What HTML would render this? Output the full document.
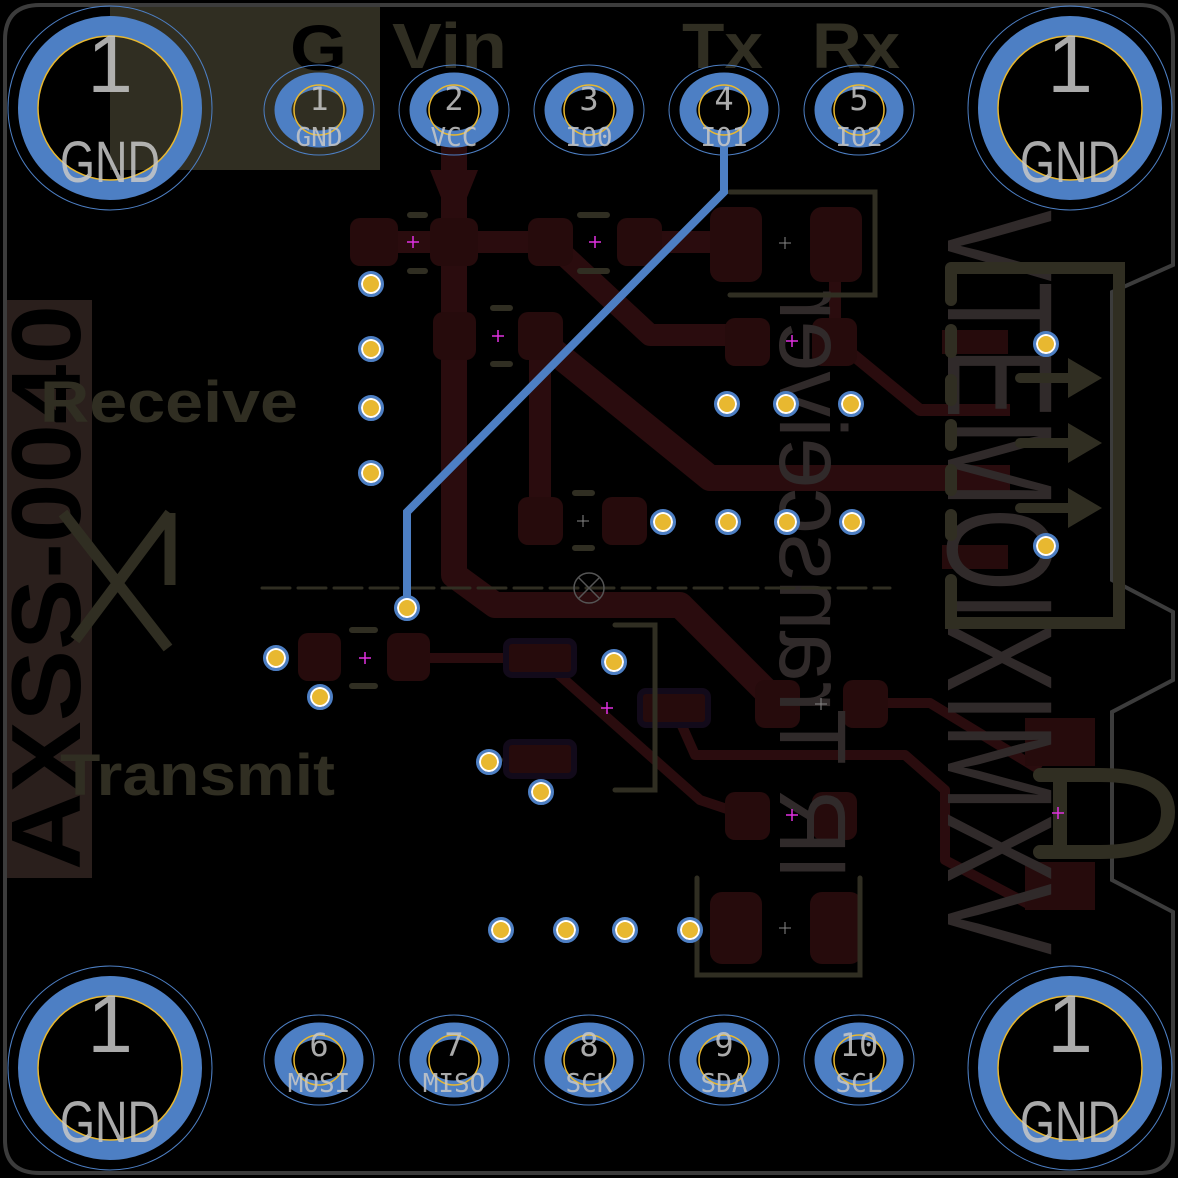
<!DOCTYPE html>
<html><head><meta charset="utf-8"><style>
html,body{margin:0;padding:0;background:#000;}
svg{display:block;}
text{font-family:"Liberation Sans",sans-serif;}
.mono{font-family:"DejaVu Sans Mono","Liberation Mono",monospace;}
</style></head><body>
<svg width="1178" height="1178" viewBox="0 0 1178 1178" xmlns="http://www.w3.org/2000/svg">
<rect width="1178" height="1178" fill="#000"/>
<!-- silkscreen fills -->
<rect x="110" y="5" width="270" height="165" fill="#302e22"/>
<rect x="7" y="300" width="85" height="578" fill="#2a1f1c"/>
<text transform="translate(80,870) rotate(-90)" font-size="98" font-weight="bold" fill="#000" textLength="565" lengthAdjust="spacingAndGlyphs">AXSS-0040</text>
<text x="290" y="70" font-size="64" font-weight="bold" fill="#000" textLength="57" lengthAdjust="spacingAndGlyphs">G</text>
<text x="392" y="68" font-size="64" font-weight="bold" fill="#302e22" textLength="115" lengthAdjust="spacingAndGlyphs">Vin</text>
<text x="682" y="68" font-size="64" font-weight="bold" fill="#302e22" textLength="81" lengthAdjust="spacingAndGlyphs">Tx</text>
<text x="812" y="68" font-size="64" font-weight="bold" fill="#302e22" textLength="88" lengthAdjust="spacingAndGlyphs">Rx</text>
<text x="40" y="422" font-size="58" font-weight="bold" fill="#302e22" textLength="258" lengthAdjust="spacingAndGlyphs">Receive</text>
<text x="60" y="795" font-size="58" font-weight="bold" fill="#302e22" textLength="275" lengthAdjust="spacingAndGlyphs">Transmit</text>
<path d="M63 513 L168 648 M170 513 L75 640 M170 513 V585" stroke="#302e22" stroke-width="11" fill="none"/>

<!-- board outline -->
<path d="M40 5 H1140 Q1173 5 1173 40 V265 L1112 292 V580 L1173 612 V680 L1112 712 V880 L1173 912 V1140 Q1173 1173 1140 1173 H40 Q5 1173 5 1140 V40 Q5 5 40 5 Z" fill="none" stroke="#3c3c3c" stroke-width="4"/>

<!-- copper traces -->
<g stroke="#2a0c0e" fill="none" stroke-linejoin="round">
<path d="M454 140 V575 L495 605 H680 L775 700" stroke-width="26"/>
<path d="M375 242 H550 L650 335 H745" stroke-width="22"/>
<path d="M540 330 V520" stroke-width="22"/>
<path d="M540 340 L710 478 H1010" stroke-width="26"/>
<path d="M640 242 H745" stroke-width="22"/>
<path d="M835 240 V340 L920 410 H1010" stroke-width="12"/>
<path d="M410 658 H540 L700 800 L745 815" stroke-width="10"/>
<path d="M675 710 L695 755 H905 L945 790 V860 L1030 905" stroke-width="10"/>
<path d="M865 703 H930 L1040 770" stroke-width="10"/>
</g>
<path d="M430 170 L478 170 L466 200 L442 200 Z" fill="#2a0c0e"/>
<!-- pads -->
<g fill="#260b0c">
<rect x="350" y="218" width="48" height="48" rx="10"/>
<rect x="430" y="218" width="48" height="48" rx="10"/>
<rect x="528" y="218" width="45" height="48" rx="10"/>
<rect x="617" y="218" width="45" height="48" rx="10"/>
<rect x="710" y="207" width="52" height="75" rx="12"/>
<rect x="810" y="207" width="52" height="75" rx="12"/>
<rect x="433" y="312" width="43" height="48" rx="10"/>
<rect x="518" y="312" width="45" height="48" rx="10"/>
<rect x="725" y="318" width="45" height="48" rx="10"/>
<rect x="812" y="318" width="45" height="48" rx="10"/>
<rect x="518" y="497" width="45" height="48" rx="10"/>
<rect x="602" y="497" width="45" height="48" rx="10"/>
<rect x="298" y="633" width="43" height="48" rx="10"/>
<rect x="387" y="633" width="43" height="48" rx="10"/>
<rect x="755" y="680" width="45" height="48" rx="10"/>
<rect x="843" y="680" width="45" height="48" rx="10"/>
<rect x="725" y="792" width="45" height="48" rx="10"/>
<rect x="812" y="792" width="45" height="48" rx="10"/>
<rect x="710" y="892" width="52" height="72" rx="12"/>
<rect x="810" y="892" width="52" height="72" rx="12"/>
<rect x="1025" y="718" width="70" height="48"/>
<rect x="1025" y="862" width="70" height="48"/>
<rect x="942" y="330" width="66" height="24"/>
<rect x="942" y="545" width="66" height="24"/>
</g>
<g fill="#260b0c" stroke="#120a1a" stroke-width="6">
<rect x="506" y="641" width="68" height="34" rx="6"/>
<rect x="640" y="691" width="68" height="34" rx="6"/>
<rect x="506" y="742" width="68" height="34" rx="6"/>
</g>

<!-- gray rotated texts -->
<text transform="translate(948,210) rotate(90)" font-size="150" fill="#302a2a" textLength="745" lengthAdjust="spacingAndGlyphs">VTEMOIXIMXV</text>
<text transform="translate(780,880) rotate(-90) scale(1,-1)" font-size="95" fill="#302a2a" textLength="590" lengthAdjust="spacingAndGlyphs">IR Transceiver</text>

<!-- silk outlines -->
<g stroke="#302e22" fill="none" stroke-linecap="round">
<path d="M730 192 H875 V295 H730" stroke-width="5"/>
<path d="M697 878 V975 H860 V878" stroke-width="5"/>
<path d="M615 625 H655 V790 H615" stroke-width="5"/>
<path d="M951 268 H1119 V623 H951 V580 M951 268 V300" stroke-width="12"/>
<path d="M951 330 V352 M951 380 V400 M951 425 V445 M951 470 V490 M951 515 V535" stroke-width="12"/>
<path d="M1020 378 H1072 M1020 443 H1072 M1020 508 H1072" stroke-width="10"/>
<path d="M1040 775 H1100 Q1168 775 1168 812 Q1168 852 1100 852 H1040" stroke-width="14"/>
<path d="M1060 775 V852" stroke-width="14"/>
<g stroke-width="6">
<path d="M410 215 H425 M410 271 H425 M493 308 H510 M493 364 H510 M580 215 H607 M580 271 H607 M575 493 H592 M575 548 H592 M352 630 H375 M352 686 H375 M486 760 H500"/>
</g>
<path d="M262 588 H890" stroke-width="3" stroke-dasharray="28 8"/>
</g>
<g fill="#302e22">
<path d="M1068 358 L1102 378 L1068 398 Z"/><path d="M1068 423 L1102 443 L1068 463 Z"/><path d="M1068 488 L1102 508 L1068 528 Z"/>
</g>
<circle cx="589" cy="588" r="15" fill="none" stroke="#555" stroke-width="1.5"/>
<path d="M578 577 L600 599 M600 577 L578 599" stroke="#555" stroke-width="1.5"/>

<!-- blue top trace -->
<path d="M724 140 V192 L407 512 V608" stroke="#4d7fc4" stroke-width="8" fill="none"/>

<!-- magenta crosses -->
<g stroke="#e030e0" stroke-width="1.5">
<path d="M413 236 v12 M407 242 h12"/><path d="M595 236 v12 M589 242 h12"/><path d="M498 330 v12 M492 336 h12"/>
<path d="M792 335 v12 M786 341 h12"/><path d="M365 652 v12 M359 658 h12"/><path d="M607 702 v12 M601 708 h12"/>
<path d="M792 809 v12 M786 815 h12"/><path d="M1058 807 v12 M1052 813 h12"/>
</g>
<g stroke="#888" stroke-width="1">
<path d="M785 237 v12 M779 243 h12"/><path d="M583 515 v12 M577 521 h12"/><path d="M821 698 v12 M815 704 h12"/><path d="M785 922 v12 M779 928 h12"/>
</g>

<!-- vias -->
<g fill="#e8b830" stroke="#fff" stroke-width="2">
<circle cx="371" cy="284" r="9"/><circle cx="371" cy="349" r="9"/><circle cx="371" cy="408" r="9"/><circle cx="371" cy="473" r="9"/>
<circle cx="727" cy="404" r="9"/><circle cx="786" cy="404" r="9"/><circle cx="851" cy="404" r="9"/>
<circle cx="663" cy="522" r="9"/><circle cx="728" cy="522" r="9"/><circle cx="787" cy="522" r="9"/><circle cx="852" cy="522" r="9"/>
<circle cx="1046" cy="344" r="9"/><circle cx="1046" cy="546" r="9"/><circle cx="407" cy="608" r="9"/>
<circle cx="276" cy="658" r="9"/><circle cx="320" cy="697" r="9"/><circle cx="614" cy="662" r="9"/>
<circle cx="489" cy="762" r="9"/><circle cx="541" cy="792" r="9"/>
<circle cx="501" cy="930" r="9"/><circle cx="566" cy="930" r="9"/><circle cx="625" cy="930" r="9"/><circle cx="690" cy="930" r="9"/>
</g>
<g fill="none" stroke="#4d7fc4" stroke-width="3">
<circle cx="371" cy="284" r="11.5"/><circle cx="371" cy="349" r="11.5"/><circle cx="371" cy="408" r="11.5"/><circle cx="371" cy="473" r="11.5"/>
<circle cx="727" cy="404" r="11.5"/><circle cx="786" cy="404" r="11.5"/><circle cx="851" cy="404" r="11.5"/>
<circle cx="663" cy="522" r="11.5"/><circle cx="728" cy="522" r="11.5"/><circle cx="787" cy="522" r="11.5"/><circle cx="852" cy="522" r="11.5"/>
<circle cx="1046" cy="344" r="11.5"/><circle cx="1046" cy="546" r="11.5"/><circle cx="407" cy="608" r="11.5"/>
<circle cx="276" cy="658" r="11.5"/><circle cx="320" cy="697" r="11.5"/><circle cx="614" cy="662" r="11.5"/>
<circle cx="489" cy="762" r="11.5"/><circle cx="541" cy="792" r="11.5"/>
<circle cx="501" cy="930" r="11.5"/><circle cx="566" cy="930" r="11.5"/><circle cx="625" cy="930" r="11.5"/><circle cx="690" cy="930" r="11.5"/>
</g>

<!-- header pins -->
<g fill="none">
<g stroke="#4d7fc4" stroke-width="1">
<ellipse cx="319" cy="110" rx="55" ry="45"/><ellipse cx="454" cy="110" rx="55" ry="45"/><ellipse cx="589" cy="110" rx="55" ry="45"/><ellipse cx="724" cy="110" rx="55" ry="45"/><ellipse cx="859" cy="110" rx="55" ry="45"/>
<ellipse cx="319" cy="1060" rx="55" ry="45"/><ellipse cx="454" cy="1060" rx="55" ry="45"/><ellipse cx="589" cy="1060" rx="55" ry="45"/><ellipse cx="724" cy="1060" rx="55" ry="45"/><ellipse cx="859" cy="1060" rx="55" ry="45"/>
</g>
<g stroke="#4d7fc4" stroke-width="17">
<ellipse cx="319" cy="110" rx="36" ry="29"/><ellipse cx="454" cy="110" rx="36" ry="29"/><ellipse cx="589" cy="110" rx="36" ry="29"/><ellipse cx="724" cy="110" rx="36" ry="29"/><ellipse cx="859" cy="110" rx="36" ry="29"/>
<ellipse cx="319" cy="1060" rx="36" ry="29"/><ellipse cx="454" cy="1060" rx="36" ry="29"/><ellipse cx="589" cy="1060" rx="36" ry="29"/><ellipse cx="724" cy="1060" rx="36" ry="29"/><ellipse cx="859" cy="1060" rx="36" ry="29"/>
</g>
<g stroke="#e8b830" stroke-width="1.5">
<circle cx="319" cy="110" r="25"/><circle cx="454" cy="110" r="25"/><circle cx="589" cy="110" r="25"/><circle cx="724" cy="110" r="25"/><circle cx="859" cy="110" r="25"/>
<circle cx="319" cy="1060" r="25"/><circle cx="454" cy="1060" r="25"/><circle cx="589" cy="1060" r="25"/><circle cx="724" cy="1060" r="25"/><circle cx="859" cy="1060" r="25"/>
</g>
</g>
<g fill="#c8c8c8" fill-opacity="0.85" text-anchor="middle" font-size="32">
<text x="319" y="110" class="mono">1</text><text x="454" y="110" class="mono">2</text><text x="589" y="110" class="mono">3</text><text x="724" y="110" class="mono">4</text><text x="859" y="110" class="mono">5</text>
<text x="319" y="1056" class="mono">6</text><text x="454" y="1056" class="mono">7</text><text x="589" y="1056" class="mono">8</text><text x="724" y="1056" class="mono">9</text><text x="859" y="1056" class="mono">10</text>
</g>
<g fill="#c8c8c8" fill-opacity="0.85" text-anchor="middle" font-size="26">
<text x="319" y="146" class="mono">GND</text><text x="454" y="146" class="mono">VCC</text><text x="589" y="146" class="mono">IO0</text><text x="724" y="146" class="mono">IO1</text><text x="859" y="146" class="mono">IO2</text>
<text x="319" y="1092" class="mono">MOSI</text><text x="454" y="1092" class="mono">MISO</text><text x="589" y="1092" class="mono">SCK</text><text x="724" y="1092" class="mono">SDA</text><text x="859" y="1092" class="mono">SCL</text>
</g>

<!-- mounting holes -->
<g fill="none">
<g stroke="#4d7fc4" stroke-width="1">
<circle cx="110" cy="108" r="102"/><circle cx="1070" cy="108" r="102"/><circle cx="110" cy="1068" r="102"/><circle cx="1070" cy="1068" r="102"/>
</g>
<g stroke="#4d7fc4" stroke-width="20">
<circle cx="110" cy="108" r="82"/><circle cx="1070" cy="108" r="82"/><circle cx="110" cy="1068" r="82"/><circle cx="1070" cy="1068" r="82"/>
</g>
<g stroke="#e8b830" stroke-width="1.5">
<circle cx="110" cy="108" r="72"/><circle cx="1070" cy="108" r="72"/><circle cx="110" cy="1068" r="72"/><circle cx="1070" cy="1068" r="72"/>
</g>
</g>
<g fill="#c8c8c8" fill-opacity="0.85" text-anchor="middle">
<text x="110" y="92" font-size="82">1</text><text x="1070" y="92" font-size="82">1</text><text x="110" y="1052" font-size="82">1</text><text x="1070" y="1052" font-size="82">1</text>
<text x="110" y="182" font-size="58" textLength="100" lengthAdjust="spacingAndGlyphs">GND</text><text x="1070" y="182" font-size="58" textLength="100" lengthAdjust="spacingAndGlyphs">GND</text>
<text x="110" y="1142" font-size="58" textLength="100" lengthAdjust="spacingAndGlyphs">GND</text><text x="1070" y="1142" font-size="58" textLength="100" lengthAdjust="spacingAndGlyphs">GND</text>
</g>
</svg>
</body></html>
